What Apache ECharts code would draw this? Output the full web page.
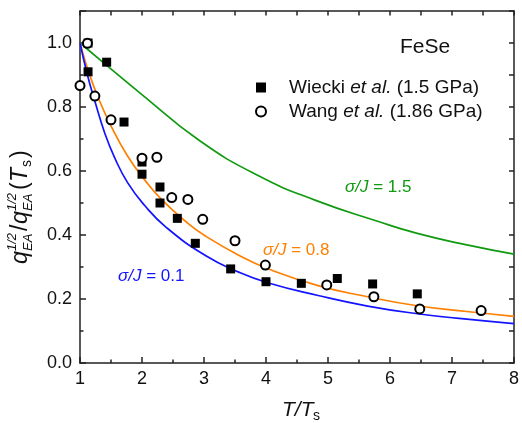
<!DOCTYPE html>
<html>
<head>
<meta charset="utf-8">
<script src="https://cdn.jsdelivr.net/npm/echarts/dist/echarts.min.js"></script>
<style>
html,body{margin:0;padding:0;background:#fff;}
#chart{width:522px;height:423px;}
</style>
</head>
<body>
<div id="chart"></div>
<script>
// ---- data ----
const xTicks = [1, 2, 3, 4, 5, 6, 7, 8];
const yTicks = [0.0, 0.2, 0.4, 0.6, 0.8, 1.0];
const yMax = 1.1;

const seriesNames = ['Wiecki et al. (1.5 GPa)', 'Wang et al. (1.86 GPa)'];

const wiecki = [
  [1.13, 1.0], [1.13, 0.91], [1.43, 0.94], [1.71, 0.753], [2.0, 0.628], [2.0, 0.59],
  [2.29, 0.55], [2.29, 0.50], [2.57, 0.452], [2.86, 0.374], [3.43, 0.294],
  [4.0, 0.254], [4.57, 0.249], [5.15, 0.264], [5.72, 0.247], [6.44, 0.216]
];
const wang = [
  [1.0, 0.867], [1.12, 0.999], [1.24, 0.834], [1.50, 0.76], [2.0, 0.64], [2.24, 0.643],
  [2.48, 0.517], [2.74, 0.511], [2.98, 0.449], [3.50, 0.382], [3.99, 0.306],
  [4.98, 0.244], [5.74, 0.207], [6.48, 0.169], [7.47, 0.164]
];
// model curves sigma/J = 0.1, 0.8, 1.5
const curve01 = [
  [1.0, 1.0], [1.12, 0.90], [1.24, 0.818], [1.40, 0.718], [1.56, 0.641], [1.77, 0.563], [2.04, 0.493],
  [2.39, 0.424], [3.03, 0.335], [3.56, 0.284], [4.04, 0.25], [4.84, 0.211],
  [5.64, 0.178], [6.44, 0.154], [7.24, 0.137], [8.0, 0.123]
];
const curve08 = [
  [1.0, 1.0], [1.13, 0.915], [1.29, 0.831], [1.51, 0.737], [1.77, 0.646], [2.04, 0.573], [2.31, 0.512],
  [2.73, 0.438], [3.03, 0.396], [3.56, 0.337], [4.04, 0.294], [4.84, 0.242],
  [5.64, 0.207], [6.44, 0.179], [7.24, 0.161], [8.0, 0.146]
];
const curve15 = [
  [1.0, 1.0], [1.43, 0.93], [1.96, 0.845], [2.92, 0.696], [3.88, 0.585], [4.79, 0.509],
  [5.8, 0.443], [6.44, 0.405], [7.24, 0.369], [8.0, 0.34]
];
const curveLabels = ['0.1', '0.8', '1.5'];

// ---- styling ----
const F = '"Liberation Sans", Arial, Helvetica, sans-serif';
const INK = '#111';
const BLUE = '#1414ff';
const ORANGE = '#ff8000';
const GREEN = '#109a10';

const axisLineStyle = { color: '#222', width: 1.5 };

const chart = echarts.init(document.getElementById('chart'), null, { renderer: 'canvas' });

function lineSeries(name, data, color) {
  return {
    name: name, type: 'line', data: data, smooth: 0.5,
    showSymbol: false, symbol: 'none', silent: true,
    lineStyle: { color: color, width: 1.7 }, z: 2
  };
}

function curveText(label, color, x, y) {
  return {
    type: 'text', x: x, y: y,
    style: {
      text: '{i|σ/J} = ' + label,
      font: '17px ' + F, fill: color, textVerticalAlign: 'middle',
      rich: { i: { fontStyle: 'italic', fontSize: 17, fontFamily: F, color: color } }
    }
  };
}

const titleFontMain = 'italic 23px ' + F;
const titleFontScript = 'italic 13px ' + F;
const titleFontUp = '23px ' + F;

function tpiece(text, x, y, font) {
  return { type: 'text', x: x, y: y, style: { text: text, font: font, fill: INK, textVerticalAlign: 'middle' } };
}

const option = {
  animation: false,
  backgroundColor: '#fff',
  grid: { left: 80, right: 4, top: 11, bottom: 60, containLabel: false },
  legend: {
    orient: 'vertical', left: 255, top: 78, padding: 0, itemGap: 5, itemWidth: 10, itemHeight: 10,
    data: seriesNames,
    formatter: function (name) { return name.replace('et al.', '{i|et al.}'); },
    textStyle: {
      fontSize: 19, fontFamily: F, color: INK, lineHeight: 19, padding: [0, 0, 0, 18],
      rich: { i: { fontStyle: 'italic', fontSize: 19, fontFamily: F, color: INK } }
    }
  },
  xAxis: [
    {
      type: 'value', position: 'bottom', min: xTicks[0], max: xTicks[xTicks.length - 1],
      interval: xTicks[1] - xTicks[0],
      axisLine: { show: true, onZero: false, lineStyle: axisLineStyle },
      axisTick: { show: true, inside: true, length: 6, lineStyle: axisLineStyle },
      minorTick: { show: true, splitNumber: 2, length: 3.5, lineStyle: axisLineStyle },
      splitLine: { show: false }, minorSplitLine: { show: false },
      axisLabel: { margin: 7, fontSize: 18, fontFamily: F, color: INK }
    },
    {
      type: 'value', position: 'top', min: xTicks[0], max: xTicks[xTicks.length - 1],
      interval: (xTicks[1] - xTicks[0]) / 2,
      axisLine: { show: true, onZero: false, lineStyle: axisLineStyle },
      axisTick: { show: true, inside: true, length: 4.5, lineStyle: axisLineStyle },
      splitLine: { show: false }, axisLabel: { show: false }
    }
  ],
  yAxis: [
    {
      type: 'value', position: 'left', min: yTicks[0], max: yMax, interval: yTicks[1] - yTicks[0],
      axisLine: { show: true, onZero: false, lineStyle: axisLineStyle },
      axisTick: { show: true, inside: true, length: 6, lineStyle: axisLineStyle },
      minorTick: { show: true, splitNumber: 2, length: 3.5, lineStyle: axisLineStyle },
      splitLine: { show: false }, minorSplitLine: { show: false },
      axisLabel: {
        margin: 8, fontSize: 18, fontFamily: F, color: INK, showMaxLabel: false,
        formatter: function (v) { return yTicks.some(t => Math.abs(t - v) < 1e-9) ? v.toFixed(1) : ''; }
      }
    },
    {
      type: 'value', position: 'right', min: yTicks[0], max: yMax, interval: (yTicks[1] - yTicks[0]) / 2,
      axisLine: { show: true, onZero: false, lineStyle: axisLineStyle },
      axisTick: { show: true, inside: true, length: 5, lineStyle: axisLineStyle },
      splitLine: { show: false }, axisLabel: { show: false }
    }
  ],
  series: [
    lineSeries('curve15', curve15, GREEN),
    lineSeries('curve08', curve08, ORANGE),
    lineSeries('curve01', curve01, BLUE),
    {
      name: seriesNames[0], type: 'scatter', data: wiecki, symbol: 'rect', symbolSize: 9,
      itemStyle: { color: '#000', opacity: 1 }, z: 3
    },
    {
      name: seriesNames[1], type: 'scatter', data: wang, symbol: 'circle', symbolSize: 9,
      itemStyle: { color: '#fff', borderColor: '#000', borderWidth: 2, opacity: 1 }, z: 4
    }
  ],
  graphic: [
    { type: 'text', x: 400, y: 47, style: { text: 'FeSe', font: '21px ' + F, fill: INK, textVerticalAlign: 'middle' } },
    curveText(curveLabels[2], GREEN, 345, 187),
    curveText(curveLabels[1], ORANGE, 263, 250),
    curveText(curveLabels[0], BLUE, 118, 276),
    // x-axis title  T/T_s
    { type: 'text', x: 282, y: 410, style: { text: 'T/T', font: 'italic 21px ' + F, fill: INK, textVerticalAlign: 'middle' } },
    { type: 'text', x: 313, y: 416, style: { text: 's', font: '14px ' + F, fill: INK, textVerticalAlign: 'middle' } },
    // y-axis title  q_EA^{1/2} / q_EA^{1/2} (T_s), rotated
    {
      type: 'group', x: 21, y: 264, rotation: Math.PI / 2,
      children: [
        tpiece('q', 0, 0, titleFontMain),
        tpiece('1/2', 13, -9, titleFontScript),
        tpiece('EA', 13, 7, titleFontScript),
        tpiece('/', 33, 0, titleFontUp),
        tpiece('q', 40, 0, titleFontMain),
        tpiece('1/2', 53, -9, titleFontScript),
        tpiece('EA', 53, 7, titleFontScript),
        tpiece('(', 74, 0, titleFontUp),
        tpiece('T', 82, 0, titleFontMain),
        tpiece('s', 97, 6, '14px ' + F),
        tpiece(')', 106, 0, titleFontUp)
      ]
    }
  ]
};

chart.setOption(option);
</script>
</body>
</html>
